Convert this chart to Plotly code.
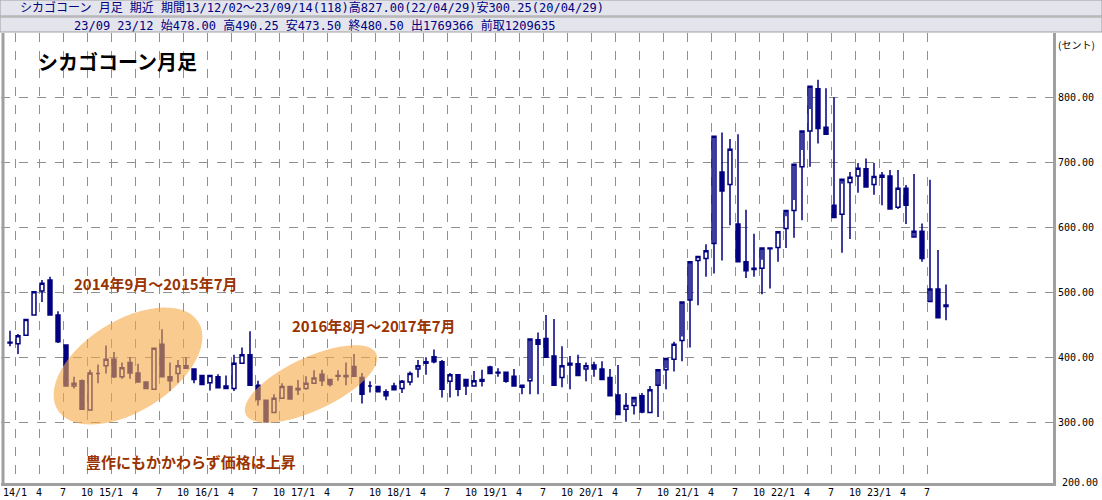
import numpy as np
import plotly.graph_objects as go

# monthly candles 13/12 .. 23/09 (cents)
opens = [423, 421, 434, 465, 502, 519, 465, 419, 356, 364, 319, 375, 387, 397, 370, 392, 376, 362, 351, 420,
         370, 375, 387, 382, 372, 361, 370, 356, 352, 391, 404, 357, 334, 315, 337, 355, 350, 352, 360, 374,
         366, 372, 372, 386, 369, 356, 355, 347, 356, 352, 362, 382, 391, 401, 393, 363, 373, 366, 356, 363,
         385, 377, 377, 371, 357, 364, 427, 429, 402, 369, 388, 390, 382, 388, 382, 369, 342, 320, 326, 341,
         315, 357, 381, 397, 426, 488, 549, 552, 575, 685, 666, 605, 547, 537, 537, 567, 569, 598, 626, 693,
         748, 813, 754, 634, 620, 669, 679, 690, 666, 677, 679, 631, 660, 585, 594, 486, 505, 478]
highs = [441, 436, 458, 501, 519, 524, 471, 419, 370, 366, 381, 389, 418, 408, 392, 400, 390, 362, 415, 443,
         392, 396, 400, 383, 373, 372, 374, 372, 404, 415, 440, 364, 334, 343, 360, 356, 365, 371, 380, 381,
         366, 380, 392, 405, 376, 363, 356, 351, 361, 365, 378, 396, 400, 412, 396, 376, 373, 366, 379, 381,
         387, 383, 378, 382, 357, 367, 438, 465, 459, 417, 402, 404, 392, 393, 394, 382, 388, 345, 330, 345,
         356, 354, 383, 424, 432, 486, 555, 574, 564, 746, 736, 743, 627, 590, 550, 569, 590, 617, 642, 719,
         782, 827, 814, 800, 667, 685, 699, 706, 699, 685, 688, 688, 665, 682, 606, 673, 565, 512, 490.25]
lows = [417, 405, 434, 465, 485, 465, 422, 356, 352, 320, 318, 360, 375, 368, 367, 367, 362, 352, 351, 370,
        348, 361, 383, 360, 358, 349, 352, 352, 348, 391, 357, 326, 301, 315, 337, 336, 342, 350, 360, 356,
        355, 364, 357, 371, 329, 346, 346, 334, 350, 345, 357, 369, 373, 391, 338, 338, 340, 342, 356, 355,
        374, 370, 361, 356, 343, 343, 343, 407, 400, 354, 351, 378, 363, 370, 375, 366, 332, 301, 312, 314,
        315, 308, 351, 378, 394, 415, 480, 524, 529, 549, 603, 629, 522, 524, 497, 506, 547, 568, 584, 611,
        693, 729, 746, 720, 561, 582, 653, 670, 650, 634, 647, 628, 605, 621, 547, 552, 473, 457, 473.5]
closes = [422, 433, 458, 501, 514, 465, 424, 356, 360, 320, 376, 375, 397, 370, 384, 376, 362, 352, 414, 370,
          364, 387, 383, 366, 358, 372, 353, 352, 391, 404, 357, 335, 301, 337, 355, 336, 352, 360, 368, 364,
          358, 371, 370, 371, 343, 356, 347, 341, 350, 363, 375, 387, 393, 393, 351, 373, 351, 356, 364, 366,
          375, 376, 363, 356, 354, 428, 420, 400, 357, 387, 391, 372, 387, 382, 366, 341, 312, 326, 338, 316,
          350, 381, 398, 420, 485, 547, 555, 564, 740, 656, 720, 547, 533, 535, 568, 568, 593, 626, 697, 748,
          817, 752, 743, 615, 674, 677, 691, 662, 678, 680, 628, 660, 634, 594, 552, 505, 461, 480.5]

first_year, first_month = 13, 12
yticks = [300, 400, 500, 600, 700, 800]
ybottom_label = 200

n = len(opens)
idx = np.arange(n)
tickvals, ticktext = [], []
for i in range(n):
    m = (first_month - 1 + i) % 12 + 1
    y = first_year + (first_month - 1 + i) // 12
    if m in (1, 4, 7, 10):
        tickvals.append(i - 0.375)
        ticktext.append(f"{y}/1" if m == 1 else str(m))

navy = "#000080"
mono = "DejaVu Sans Mono, Noto Sans CJK JP"
fig = go.Figure()
fig.add_trace(go.Candlestick(
    x=idx, open=opens, high=highs, low=lows, close=closes, whiskerwidth=0,
    increasing=dict(line=dict(color=navy, width=1.5), fillcolor="white"),
    decreasing=dict(line=dict(color=navy, width=1.5), fillcolor=navy),
    showlegend=False, hoverinfo="skip"))

# pixel -> data helpers for the highlight ellipses
def px2x(p):
    return (p - 10) / 8.0

def py2y(p):
    return 500 + (292.3 - p) / 0.65

def ellipse(cx, cy, a, b, deg):
    t = np.linspace(0, 2 * np.pi, 60)
    th = np.radians(deg)
    xs = cx + a * np.cos(t) * np.cos(th) - b * np.sin(t) * np.sin(th)
    ys = cy - (a * np.cos(t) * np.sin(th) + b * np.sin(t) * np.cos(th))
    pts = [f"{px2x(x):.3f},{py2y(y):.3f}" for x, y in zip(xs, ys)]
    return "M " + " L ".join(pts) + " Z"

for cx, cy, a, b, d in [(128, 366, 83, 45.5, 32), (311, 384, 72, 26.5, 25)]:
    fig.add_shape(type="path", path=ellipse(cx, cy, a, b, d), xref="x", yref="y",
                  fillcolor="#f5a845", opacity=0.6, line=dict(width=0), layer="above")

H = 450.0
W = 1052.0
def pyp(p):
    return (483 - p) / H

def pxp(p):
    return (p - 1) / W

# header bars
for top, bot in [(0, 16), (17, 32)]:
    fig.add_shape(type="rect", xref="paper", yref="paper", x0=pxp(0), x1=pxp(1102),
                  y0=pyp(bot), y1=pyp(top), fillcolor="#e4e4ec", line=dict(color="#a0a0a0", width=1))
fig.add_annotation(xref="paper", yref="paper", x=pxp(18), y=pyp(8), xanchor="left", yanchor="middle",
                   showarrow=False, font=dict(family=mono, size=12, color=navy),
                   text="シカゴコーン 月足 期近 期間13/12/02～23/09/14(118)高827.00(22/04/29)安300.25(20/04/29)")
fig.add_annotation(xref="paper", yref="paper", x=pxp(72), y=pyp(25), xanchor="left", yanchor="middle",
                   showarrow=False, font=dict(family=mono, size=12, color=navy),
                   text="23/09 23/12 始478.00 高490.25 安473.50 終480.50 出1769366 前取1209635")

brown = "#993300"
fig.add_annotation(xref="paper", yref="paper", x=pxp(36), y=pyp(62), xanchor="left", yanchor="middle",
                   showarrow=False, text="<b>シカゴコーン月足</b>",
                   font=dict(family="Noto Sans CJK JP", size=20, color="black"))
for txt, px, py in [("2014年9月～2015年7月", 72, 283), ("2016年8月～2017年7月", 290, 325),
                    ("豊作にもかかわらず価格は上昇", 84, 461)]:
    fig.add_annotation(xref="paper", yref="paper", x=pxp(px), y=pyp(py), xanchor="left", yanchor="middle",
                       showarrow=False, text=f"<b>{txt}</b>",
                       font=dict(family="Noto Sans CJK JP", size=15, color=brown))
fig.add_annotation(xref="paper", yref="paper", x=pxp(1056), y=pyp(44), xanchor="left", yanchor="middle",
                   showarrow=False, text="(セント)", font=dict(family="Noto Sans CJK JP", size=10, color="black"))
fig.add_annotation(xref="paper", yref="paper", x=pxp(1060), y=pyp(482), xanchor="left", yanchor="middle",
                   showarrow=False, text=f"{ybottom_label:.2f}",
                   font=dict(family="DejaVu Sans Mono", size=10, color="black"))

fig.update_layout(
    width=1102, height=500, margin=dict(l=1, r=49, t=33, b=17, autoexpand=False),
    paper_bgcolor="white", plot_bgcolor="white",
    xaxis=dict(range=[px2x(1), px2x(1053)], tickvals=tickvals, ticktext=ticktext, automargin=False,
               showgrid=True, gridcolor="#909090", griddash="dash", gridwidth=1,
               rangeslider=dict(visible=False), ticks="", zeroline=False, ticklabelstandoff=-2,
               tickfont=dict(family="DejaVu Sans Mono", size=10, color="black"),
               showline=True, linecolor="#a0a0a0", linewidth=3, mirror=False),
    yaxis=dict(range=[py2y(483), py2y(33)], side="right", tickvals=yticks, tickformat=".2f", automargin=False,
               showgrid=True, gridcolor="#909090", griddash="dash", gridwidth=1, zeroline=False,
               ticks="", tickfont=dict(family="DejaVu Sans Mono", size=10, color="black"),
               showline=True, linecolor="#a0a0a0", linewidth=3),
)
fig.add_shape(type="line", xref="paper", yref="paper", x0=pxp(3), x1=pxp(3), y0=0, y1=1,
              line=dict(color="#a0a0a0", width=3))

fig.write_html("out.html", config={"displayModeBar": False},
               post_script="document.body.style.margin='0';")
